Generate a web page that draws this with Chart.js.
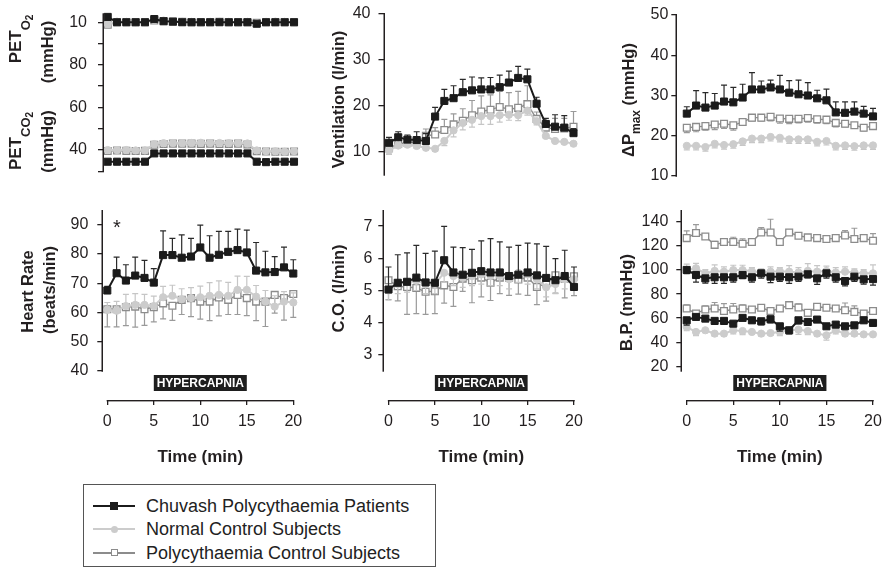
<!DOCTYPE html>
<html>
<head>
<meta charset="utf-8">
<script src="https://cdn.jsdelivr.net/npm/chart.js@4.4.0/dist/chart.umd.min.js"></script>
<style>
  body { margin: 0; width: 886px; height: 569px; background: #fff; position: relative; overflow: hidden; font-family: 'Liberation Sans', Arial, sans-serif; }
  canvas { position: absolute; }
  #legend { position: absolute; left: 83px; top: 484px; width: 353px; height: 83px; border: 1px solid #555; box-sizing: border-box; }
  #legend .row { position: absolute; left: 0; height: 22px; width: 100%; }
  #legend .ln { position: absolute; left: 9px; width: 42px; top: 10px; height: 2px; }
  #legend .mk { position: absolute; box-sizing: border-box; }
  #legend .tx { position: absolute; left: 62px; top: 0; line-height: 22px; font-size: 18px; color: #222; white-space: nowrap; }
</style>
</head>
<body>
<canvas id="pet" width="305" height="200" style="left:0px;top:0px"></canvas>
<canvas id="vent" width="296" height="200" style="left:290px;top:0px"></canvas>
<canvas id="dp" width="296" height="200" style="left:590px;top:0px"></canvas>
<canvas id="hr" width="305" height="280" style="left:0px;top:195px"></canvas>
<canvas id="co" width="296" height="280" style="left:290px;top:195px"></canvas>
<canvas id="bp" width="296" height="280" style="left:590px;top:195px"></canvas>
<div id="legend"></div>

<script>
// time axis
const minutes = [0,1,2,3,4,5,6,7,8,9,10,11,12,13,14,15,16,17,18,19,20];
const timeTicks = [0,5,10,15,20];
const hyperStart = 5, hyperEnd = 15;
const groupNames = ['Chuvash Polycythaemia Patients', 'Normal Control Subjects', 'Polycythaemia Control Subjects'];

// PETO2 / PETCO2 (mmHg)
const petO2Chuvash = [102.5,100,100,100,100,101.5,100.5,100.3,100,100,100,100,100,100,100,100,99.3,100,100,100,100];
const petO2Normal  = [99.2,100.3,100.2,100,100,101,100.8,100.5,100.3,100.2,100,100.2,100.3,100.2,100,100.2,99.6,100.2,100.3,100.2,100];
const petO2Poly    = [98.8,100,100,100,100,100.8,100.5,100.3,100.2,100,100,100,100.2,100,100,100,99.8,100,100,100,100];
const petO2NormalErr = [1.5,0.6,0.5,0.5,0.5,0.6,0.6,0.5,0.5,0.5,0.5,0.5,0.5,0.5,0.5,0.5,0.6,0.5,0.5,0.5,0.5];
const petCO2Chuvash = [34.5,34.5,34.5,34.5,34.5,38.4,38.4,38.4,38.4,38.4,38.4,38.4,38.4,38.4,38.4,38.4,34.5,34.3,34.5,34.5,34.5];
const petCO2Normal  = [40,40,40,39.8,39.8,42.8,43.2,43.3,43.2,43.3,43.4,43.3,43.3,43.2,43.3,43.1,39.8,39.5,39.4,39.2,39.5];
const petCO2Poly    = [39.5,39.8,39.6,39.5,39.6,42.5,42.8,43,43,43,42.9,43,42.8,42.9,43,42.6,39.4,39.3,39.2,39.2,39.3];
const petCO2NormalErr = [1,1,1,1,1,1,1.2,1.2,1,1,1,1,1,1,1,1,1,1,1,1,1];

// Ventilation (l/min)
const ventChuvash = [12.0,13.2,12.7,12.6,12.4,17.7,21.1,21.7,23.0,23.4,23.6,23.6,24.1,25.1,26.1,25.8,20.5,16.1,15.5,15.3,14.1];
const ventChuvashErr = [1.2,1.2,1.0,1.8,1.6,2.0,2.5,2.7,2.8,2.9,2.5,2.6,2.6,2.5,2.5,2.2,1.4,1.2,2.6,2.6,1.0];
const ventNormal = [10.3,11.4,11.6,11.3,10.9,10.7,12.4,14.7,16.3,17.0,17.8,17.8,18.0,18.1,18.0,19.0,16.7,13.5,12.4,12.2,11.8];
const ventNormalErr = [0.8,0.5,0.5,0.5,0.5,0.5,1.0,1.4,1.5,1.6,1.8,1.8,1.5,1.2,1.2,1.0,0.8,0.5,0.4,0.4,0.4];
const ventPoly = [10.8,11.8,12.0,12.2,13.5,13.8,14.8,16.0,16.8,18.0,18.8,19.2,19.8,19.3,19.6,20.4,17.2,15.3,15.0,15.1,15.5];
const ventPolyErr = [0.5,0.6,0.6,1.0,1.5,1.5,2.3,2.3,2.6,3.2,3.4,3.2,3.4,3.6,3.6,4.0,1.5,1.5,2.3,2.2,3.3];

// delta P max (mmHg)
const dpChuvash = [25.5,27.5,27.0,27.5,28.5,28.3,29.5,31.5,31.5,32.0,31.5,30.7,30.3,30.0,29.3,28.8,25.8,25.7,26.0,25.5,24.8];
const dpChuvashErr = [1.7,3.7,3.7,3.0,4.1,3.7,3.3,4.2,2.1,1.8,3.5,3.0,3.5,3.2,2.0,2.8,2.6,2.7,2.4,1.8,2.0];
const dpNormal = [17.5,17.5,17.2,18.0,17.7,17.9,18.6,19.3,19.3,19.7,19.5,19.1,19.1,19.1,18.5,18.7,17.5,17.6,17.4,17.6,17.6];
const dpNormalErr = [1.0,1.0,1.0,1.0,1.0,1.0,1.0,1.0,1.0,1.0,1.0,1.0,1.0,1.0,1.0,1.0,1.0,1.0,1.0,1.0,1.0];
const dpPoly = [22.0,22.2,22.4,22.8,23.0,22.6,23.4,24.5,24.5,24.7,24.3,24.2,24.2,24.4,24.1,24.0,23.2,23.0,22.6,22.0,22.4];
const dpPolyErr = [1.2,1.2,1.0,1.3,1.2,1.2,0.8,0.8,0.8,1.0,1.2,1.2,1.0,1.0,1.0,1.0,1.0,0.8,0.8,0.8,0.8];

// Heart rate (beats/min)
const hrChuvash = [67.5,73.4,70.9,72.6,71.8,70.2,79.6,79.6,78.7,79.1,82.2,78.7,79.7,80.7,81.3,80.5,74.3,73.7,73.8,75.4,73.3];
const hrChuvashErr = [1.4,5.5,5.4,6.3,6.0,4.8,8.3,5.7,7.8,6.2,7.6,7.5,8.0,7.0,7.2,7.6,9.6,7.2,5.3,6.9,4.7];
const hrNormal = [60.9,60.6,62.2,62.6,62.6,62.2,65.2,65.7,64.5,64.9,65.2,65.7,66.0,65.7,67.7,67.7,65.4,63.7,62.0,63.7,63.4];
const hrNormalErr = [2.5,3.2,4.0,3.8,3.6,3.4,3.7,3.6,3.6,3.6,3.8,4.5,4.8,4.6,4.7,4.6,3.8,3.8,3.7,3.4,3.3];
const hrPoly = [61.1,61.1,61.8,62.0,61.1,61.8,63.1,62.3,64.3,64.9,63.7,63.7,65.1,64.3,66.0,64.9,63.7,63.7,66.0,64.9,66.3];
const hrPolyErr = [6.0,6.0,6.3,7.0,5.5,5.0,5.3,5.0,5.0,6.3,6.0,6.5,6.3,5.0,6.7,6.0,6.5,8.5,6.2,7.5,8.0];

// Cardiac output (l/min)
const coChuvash = [5.03,5.24,5.27,5.40,5.25,5.24,5.94,5.56,5.49,5.55,5.60,5.56,5.56,5.45,5.49,5.56,5.47,5.39,5.32,5.45,5.11];
const coChuvashErr = [0.70,0.87,0.90,1.00,0.90,0.98,1.05,0.79,0.84,0.73,0.94,1.05,0.95,0.90,0.91,0.91,0.98,0.98,0.67,0.80,0.62];
const coNormal = [5.0,5.2,5.25,5.3,5.2,5.2,5.55,5.45,5.4,5.45,5.5,5.45,5.45,5.35,5.55,5.5,5.35,5.1,5.2,5.35,5.35];
const coNormalErr = [0.3,0.3,0.3,0.3,0.3,0.3,0.3,0.3,0.3,0.3,0.3,0.3,0.3,0.3,0.3,0.3,0.3,0.3,0.3,0.3,0.3];
const coPoly = [5.32,5.13,5.11,5.08,4.96,4.98,5.16,5.11,5.37,5.32,5.40,5.24,5.40,5.40,5.34,5.40,5.11,5.22,5.47,5.37,5.44];
const coPolyErr = [0.60,0.45,0.85,0.80,0.70,0.70,0.55,0.60,0.40,0.70,0.60,0.55,0.50,0.55,0.45,0.55,0.55,0.55,0.55,0.60,0.60];

// Blood pressure (mmHg), systolic and diastolic
const bpSysChuvash = [100.1,95.9,93.1,94.0,94.0,94.0,95.9,94.0,97.3,94.5,94.5,94.0,94.5,96.5,93.1,97.3,94.0,90.9,94.5,92.3,92.5];
const bpSysChuvashErr = [3,6,4,5,5,4,3,4,4,5,4,5,4,3,5,4,4,4,4,4,5];
const bpSysNormal = [100,101.5,97.3,99.3,98.7,100,100,99,98,98.7,99,98.7,98,99.3,98.7,99.3,98,98.7,98,97.3,97.3];
const bpSysNormalErr = [5,4,3,5,4,4,4,3,3,4,3,5,4,6,5,4,4,4,3,3,7];
const bpSysPoly = [126.6,130.8,128.0,121.0,123.3,123.3,121.9,123.3,131.3,131.3,123.3,131.3,128.6,127.2,126.6,125.8,126.6,128.8,125.8,126.6,124.4];
const bpSysPolyErr = [6,7,2,3,3,4,4,2,4,11,3,2,2,2,2,2,3,4,9,3,6];
const bpDiaChuvash = [58.2,61.0,59.6,57.7,57.7,55.4,60.2,58.2,57.4,59.1,53.2,49.9,58.2,56.8,58.8,53.2,54.6,53.2,54.0,58.2,56.0];
const bpDiaChuvashErr = [4,2,2,3,3,2,2,2,3,3,4,3,3,2,2,2,2,2,2,2,2];
const bpDiaNormal = [52.6,48.5,49.9,47.1,47.1,49.9,49.3,48.5,47.1,47.6,48.5,49.9,50.4,49.3,47.1,45.7,49.9,47.1,47.1,46.5,46.5];
const bpDiaNormalErr = [3,3,2,2,2,3,3,2,2,2,3,3,4,3,2,4,3,2,2,2,2];
const bpDiaPoly = [68.0,63.8,67.2,68.0,66.0,67.2,68.0,67.2,68.6,66.0,68.0,70.8,68.8,64.4,69.4,68.6,68.0,66.6,65.2,63.8,66.0];
const bpDiaPolyErr = [3,2,3,5,6,5,3,2,2,2,2,3,3,2,2,2,2,6,5,2,2];

const INK = '#231f20';
const FAM = "'Liberation Sans', Arial, Helvetica, sans-serif";

const looks = {
    chuvash: { line: '#1b1b1b', lw: 2, point: 'rect', r: 5, fill: '#1b1b1b', edge: '#1b1b1b', ew: 1, err: '#2a2a2a' },
    normal: { line: '#cccccc', lw: 2, point: 'circle', r: 3.6, fill: '#cccccc', edge: '#cccccc', ew: 1, err: '#c6c6c6' },
    poly: { line: '#8c8c8c', lw: 1.4, point: 'rect', r: 4.8, fill: '#ffffff', edge: '#8c8c8c', ew: 1.3, err: '#9a9a9a' },
};

function series(group, values, errs, dir) {
    const st = looks[group];
    return {
        data: minutes.map((m, i) => ({ x: m, y: values[i] })),
        errors: errs, errDir: dir, errColor: st.err,
        xAxisID: 'x', yAxisID: 'y',
        borderColor: st.line, borderWidth: st.lw,
        pointStyle: st.point, pointRadius: st.r,
        pointBackgroundColor: st.fill, pointBorderColor: st.edge, pointBorderWidth: st.ew,
        tension: 0, clip: false,
    };
}

// error bars are drawn under each dataset's own line and markers
const errorBars = {
    id: 'errorBars',
    beforeDatasetDraw(chart, args) {
        const ds = chart.data.datasets[args.index];
        if (!ds.errors) return;
        const { ctx } = chart;
        const ys = chart.scales.y;
        ctx.save();
        ctx.strokeStyle = ds.errColor;
        ctx.lineWidth = 1.2;
        args.meta.data.forEach((p, i) => {
            const v = ds.data[i].y, e = ds.errors[i];
            const ends = ds.errDir === 'up' ? [v + e] : ds.errDir === 'down' ? [v - e] : [v + e, v - e];
            ends.forEach(end => {
                const py = ys.getPixelForValue(end);
                ctx.beginPath();
                ctx.moveTo(p.x, p.y); ctx.lineTo(p.x, py);
                ctx.moveTo(p.x - 3, py); ctx.lineTo(p.x + 3, py);
                ctx.stroke();
            });
        });
        ctx.restore();
    }
};

function rich(ctx, x, y, parts) {
    ctx.save();
    ctx.fillStyle = INK;
    ctx.textBaseline = 'alphabetic';
    ctx.textAlign = 'left';
    let total = 0;
    const widths = parts.map(([t, s]) => {
        ctx.font = `bold ${s}px ${FAM}`;
        const w = ctx.measureText(t).width;
        total += w;
        return w;
    });
    ctx.translate(x, y);
    ctx.rotate(-Math.PI / 2);
    let cx = -total / 2;
    parts.forEach(([t, s, dy], i) => {
        ctx.font = `bold ${s}px ${FAM}`;
        ctx.fillText(t, cx, dy);
        cx += widths[i];
    });
    ctx.restore();
}

function decor(cfg) {
    return {
        id: 'decor',
        afterDraw(chart) {
            const { ctx, chartArea } = chart;
            // y axis line over the whole plot height
            ctx.save();
            ctx.fillStyle = INK;
            const ax = Math.round(chartArea.left);
            ctx.fillRect(ax - 1.5, chartArea.top, 1.5, chartArea.bottom - chartArea.top + 0.7);
            ctx.restore();

            cfg.titles.forEach(t => rich(ctx, t.x - cfg.left, t.y - cfg.top, t.parts));
            if (cfg.bottom) {
                const xs = chart.scales.x;
                const x0 = xs.getPixelForValue(timeTicks[0]);
                const x1 = xs.getPixelForValue(timeTicks[timeTicks.length - 1]);
                ctx.save();
                ctx.fillStyle = INK;
                ctx.fillRect(x0 - 0.65, xs.top, x1 - x0 + 1.3, 1.4);

                const h0 = xs.getPixelForValue(hyperStart), h1 = xs.getPixelForValue(hyperEnd);
                const top = chart.chartArea.bottom + 4;
                ctx.fillStyle = '#1e1e1e';
                ctx.fillRect(h0, top, h1 - h0, 16);
                ctx.fillStyle = '#fff';
                ctx.font = `bold 12px ${FAM}`;
                ctx.textAlign = 'center';
                ctx.textBaseline = 'middle';
                ctx.fillText('HYPERCAPNIA', (h0 + h1) / 2, top + 8.5);

                ctx.fillStyle = INK;
                ctx.font = `bold 17px ${FAM}`;
                ctx.fillText('Time (min)', (x0 + x1) / 2, 457 - cfg.top);
                ctx.restore();
            }
            if (cfg.star) {
                ctx.save();
                ctx.fillStyle = INK;
                ctx.font = `20px ${FAM}`;
                ctx.textAlign = 'center';
                ctx.textBaseline = 'alphabetic';
                ctx.fillText('*', cfg.star[0] - cfg.left, cfg.star[1] - cfg.top);
                ctx.restore();
            }
        }
    };
}

function noEdgePadding(s) {
    s.paddingTop = 0; s.paddingBottom = 0; s.paddingLeft = 0; s.paddingRight = 0;
}

function makePanel(id, cfg) {
    const canvas = document.getElementById(id);
    const unit = (cfg.B - cfg.A) / 20;
    const xMin = -(cfg.A - cfg.axisX) / unit;
    const xAxisH = 67, gapH = 29;
    const hasAxis = !!cfg.bottom;
    const bottomPad = cfg.h - (cfg.chartBottom - cfg.top) - (hasAxis ? gapH + xAxisH : 0);

    const scales = {
        x: {
            type: 'linear', position: 'bottom', weight: 1, min: xMin, max: 20,
            display: hasAxis,
            afterBuildTicks: s => { s.ticks = timeTicks.map(v => ({ value: v })); },
            afterFit: s => { s.height = hasAxis ? xAxisH : 0; noEdgePadding(s); },
            border: { display: false },
            grid: { drawOnChartArea: false, tickLength: 5, color: INK, lineWidth: 1.3 },
            ticks: { font: { family: FAM, size: 16 }, color: INK, padding: 7.4, maxRotation: 0, autoSkip: false },
        },
        y: {
            type: 'linear', position: 'left', min: cfg.yMin, max: cfg.yMax,
            afterBuildTicks: s => { s.ticks = cfg.yTicks.map(v => ({ value: v })); },
            afterFit: s => { s.width = cfg.axisX - cfg.left; noEdgePadding(s); },
            border: { display: false },
            grid: { drawOnChartArea: false, tickLength: 6, color: INK, lineWidth: 1.3 },
            ticks: {
                font: { family: FAM, size: 16 }, color: INK, padding: cfg.tickPad, autoSkip: false,
                callback: (v, i) => cfg.yLabels[i],
            },
        },
    };
    if (hasAxis) {
        scales.gap = {
            type: 'linear', position: 'bottom', weight: 0, min: 0, max: 1,
            ticks: { display: false }, grid: { display: false }, border: { display: false },
            afterFit: s => { s.height = gapH; noEdgePadding(s); },
        };
    }

    return new Chart(canvas.getContext('2d'), {
        type: 'line',
        data: { datasets: cfg.datasets },
        options: {
            responsive: false,
            maintainAspectRatio: false,
            animation: false,
            events: [],
            layout: {
                autoPadding: false,
                padding: { left: 0, top: cfg.chartTop - cfg.top, right: cfg.w - (cfg.B - cfg.left), bottom: bottomPad },
            },
            plugins: { legend: { display: false }, tooltip: { enabled: false } },
            scales,
        },
        plugins: [errorBars, decor(cfg)],
    });
}

const tickText = arr => arr.map(v => String(v));

makePanel('pet', {
    left: 0, top: 0, w: 305, h: 200, axisX: 104, A: 107.7, B: 294, chartTop: 13.3, chartBottom: 171.3,
    yMin: 30, yMax: 104.2, yTicks: [30,40,50,60,70,80,90,100], yLabels: ['', '40', '', '60', '', '80', '', '10'], tickPad: 11,
    titles: [
        { x: 21, y: 39, parts: [['PET', 17, 0], ['O', 13, 9], ['2', 10, 12]] },
        { x: 52.5, y: 52, parts: [['(mmHg)', 16.5, 0]] },
        { x: 21, y: 141, parts: [['PET', 17, 0], ['CO', 13, 9], ['2', 10, 12]] },
        { x: 52.5, y: 141.5, parts: [['(mmHg)', 16.5, 0]] },
    ],
    datasets: [
        series('chuvash', petO2Chuvash, null, 'up'),
        series('chuvash', petCO2Chuvash, null, 'up'),
        series('normal', petO2Normal, petO2NormalErr, 'down'),
        series('normal', petCO2Normal, petCO2NormalErr, 'up'),
        series('poly', petO2Poly, null, 'up'),
        series('poly', petCO2Poly, null, 'up'),
    ],
});

makePanel('vent', {
    left: 290, top: 0, w: 296, h: 200, axisX: 384.5, A: 389, B: 573.5, chartTop: 14, chartBottom: 175,
    yMin: 5, yMax: 40, yTicks: [10,20,30,40], yLabels: tickText([10,20,30,40]), tickPad: 8,
    titles: [{ x: 344.3, y: 99.5, parts: [['Ventilation (l/min)', 16.5, 0]] }],
    datasets: [
        series('chuvash', ventChuvash, ventChuvashErr, 'up'),
        series('normal', ventNormal, ventNormalErr, 'down'),
        series('poly', ventPoly, ventPolyErr, 'up'),
    ],
});

makePanel('dp', {
    left: 590, top: 0, w: 296, h: 200, axisX: 677.3, A: 686.8, B: 873, chartTop: 15, chartBottom: 176,
    yMin: 10, yMax: 50, yTicks: [10,20,30,40,50], yLabels: tickText([10,20,30,40,50]), tickPad: 3,
    titles: [{ x: 634, y: 100, parts: [['\u0394P', 16.5, 0], ['max', 12, 6], [' (mmHg)', 16.5, 0]] }],
    datasets: [
        series('chuvash', dpChuvash, dpChuvashErr, 'up'),
        series('normal', dpNormal, dpNormalErr, 'down'),
        series('poly', dpPoly, dpPolyErr, 'down'),
    ],
});

makePanel('hr', {
    left: 0, top: 195, w: 305, h: 280, axisX: 103.3, A: 107.3, B: 293.3, chartTop: 210, chartBottom: 371, bottom: true,
    yMin: 40, yMax: 95, yTicks: [40,50,60,70,80,90], yLabels: tickText([40,50,60,70,80,90]), tickPad: 9,
    star: [117, 234],
    titles: [
        { x: 33, y: 291.5, parts: [['Heart Rate', 16.5, 0]] },
        { x: 55, y: 290, parts: [['(beats/min)', 16.5, 0]] },
    ],
    datasets: [
        series('chuvash', hrChuvash, hrChuvashErr, 'up'),
        series('normal', hrNormal, hrNormalErr, 'up'),
        series('poly', hrPoly, hrPolyErr, 'down'),
    ],
});

makePanel('co', {
    left: 290, top: 195, w: 296, h: 280, axisX: 384.3, A: 388.5, B: 574, chartTop: 210, chartBottom: 371, bottom: true,
    yMin: 2.5, yMax: 7.5, yTicks: [3,4,5,6,7], yLabels: tickText([3,4,5,6,7]), tickPad: 6,
    titles: [{ x: 344.3, y: 288.5, parts: [['C.O. (l/min)', 16.5, 0]] }],
    datasets: [
        series('chuvash', coChuvash, coChuvashErr, 'up'),
        series('normal', coNormal, coNormalErr, 'down'),
        series('poly', coPoly, coPolyErr, 'down'),
    ],
});

makePanel('bp', {
    left: 590, top: 195, w: 296, h: 280, axisX: 682.3, A: 686.7, B: 873, chartTop: 210, chartBottom: 371, bottom: true,
    yMin: 16, yMax: 150, yTicks: [20,40,60,80,100,120,140], yLabels: tickText([20,40,60,80,100,120,140]), tickPad: 8,
    titles: [{ x: 631.7, y: 302.5, parts: [['B.P. (mmHg)', 16.5, 0]] }],
    datasets: [
        series('chuvash', bpSysChuvash, bpSysChuvashErr, 'down'),
        series('chuvash', bpDiaChuvash, bpDiaChuvashErr, 'down'),
        series('normal', bpSysNormal, bpSysNormalErr, 'up'),
        series('normal', bpDiaNormal, bpDiaNormalErr, 'down'),
        series('poly', bpSysPoly, bpSysPolyErr, 'up'),
        series('poly', bpDiaPoly, bpDiaPolyErr, 'up'),
    ],
});

// legend
const legendRows = [
    { name: groupNames[0], look: looks.chuvash, size: 8, round: false, hollow: false },
    { name: groupNames[1], look: looks.normal, size: 7, round: true, hollow: false },
    { name: groupNames[2], look: looks.poly, size: 7, round: false, hollow: true },
];
const legendCentres = [21, 44.3, 67.7];
const legend = document.getElementById('legend');
legendRows.forEach((r, i) => {
    const row = document.createElement('div');
    row.className = 'row';
    row.style.top = (legendCentres[i] - 11) + 'px';
    const ln = document.createElement('span');
    ln.className = 'ln';
    ln.style.background = r.look.line;
    const mk = document.createElement('span');
    mk.className = 'mk';
    mk.style.width = mk.style.height = r.size + 'px';
    mk.style.left = (30 - r.size / 2) + 'px';
    mk.style.top = (11 - r.size / 2) + 'px';
    mk.style.background = r.hollow ? '#fff' : r.look.fill;
    mk.style.border = r.hollow ? `1.3px solid ${r.look.edge}` : 'none';
    if (r.round) mk.style.borderRadius = '50%';
    const tx = document.createElement('span');
    tx.className = 'tx';
    tx.textContent = r.name;
    row.append(ln, mk, tx);
    legend.appendChild(row);
});
</script>
</body>
</html>
